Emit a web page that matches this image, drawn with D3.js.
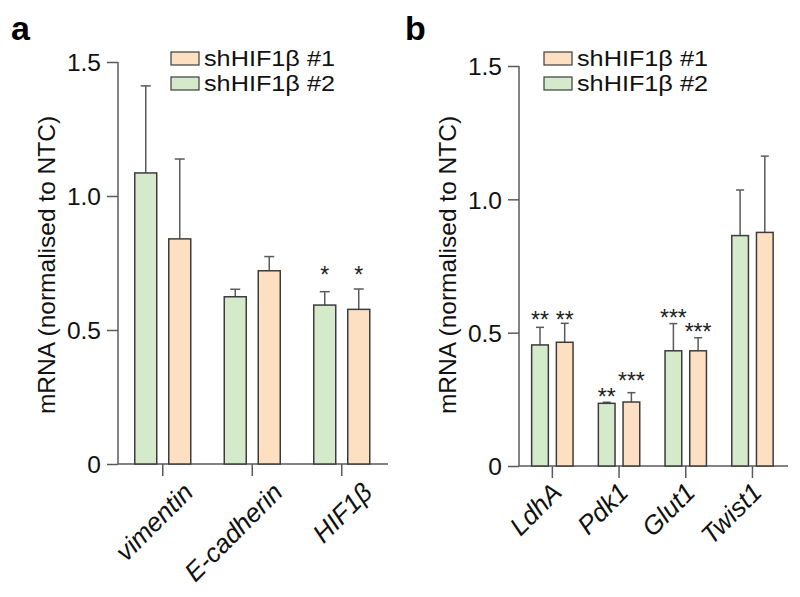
<!DOCTYPE html>
<html><head><meta charset="utf-8">
<script src="https://cdn.jsdelivr.net/npm/d3@7"></script>
<style>body{margin:0;background:#fff;} text{font-family:"Liberation Sans",Arial,sans-serif;}</style>
</head><body>
<svg id="chart" width="800" height="597"></svg>
<script>
// ---- data ----
const seriesNames = ["shHIF1β #1", "shHIF1β #2"];
const tickValues = [0, 0.5, 1.0, 1.5];
const tickLabels = ["0", "0.5", "1.0", "1.5"];

const catsA = ["vimentin", "E-cadherin", "HIF1β"];
const sh2A = [1.086, 0.624, 0.593];
const sh2AErr = [0.325, 0.028, 0.05];
const sh1A = [0.84, 0.721, 0.577];
const sh1AErr = [0.298, 0.053, 0.076];
const sh2AStars = ["", "", "*"];
const sh1AStars = ["", "", "*"];
const sh2AStarLevel = [null, null, 0.724];
const sh1AStarLevel = [null, null, 0.724];

const catsB = ["LdhA", "Pdk1", "Glut1", "Twist1"];
const sh2B = [0.454, 0.235, 0.432, 0.864];
const sh2BErr = [0.066, 0.004, 0.102, 0.171];
const sh1B = [0.464, 0.24, 0.432, 0.876];
const sh1BErr = [0.071, 0.035, 0.049, 0.286];
const sh2BStars = ["**", "**", "***", ""];
const sh1BStars = ["**", "***", "***", ""];
const sh2BStarLevel = [0.566, 0.277, 0.574, null];
const sh1BStarLevel = [0.566, 0.339, 0.521, null];

const colOrange = "#fde0c2", colGreen = "#d5eacb";
const strokeCol = "#3c3c3c", axisCol = "#5a5a5a";

const svg = d3.select("#chart");

function drawPanel(p) {
  const g = svg.append("g");
  const y = d3.scaleLinear().domain([0, 1.5]).range([p.y0, p.y1]);
  const x = d3.scaleBand().domain(p.cats).range([p.ax, p.ax + p.step * p.cats.length]).padding(0);
  const x1 = d3.scaleBand().domain(["sh2", "sh1"]).range([-p.groupW / 2, p.groupW / 2]).paddingInner(p.innerPad).paddingOuter(0);

  // y axis
  const ya = g.append("g").attr("transform", `translate(${p.ax},0)`)
    .call(d3.axisLeft(y).tickValues(tickValues).tickFormat((d, i) => tickLabels[i]).tickSize(11).tickPadding(6));
  ya.select(".domain").remove();
  ya.append("line").attr("x1", 0).attr("x2", 0).attr("y1", y(1.5)).attr("y2", y(0));
  ya.selectAll("line").attr("stroke", axisCol).attr("stroke-width", 1.5);
  ya.selectAll("text").attr("font-size", 24.5).attr("fill", "#111").attr("dy", "0.36em")
    .attr("font-family", "Liberation Sans, Arial, sans-serif");

  // x axis
  const xa = g.append("g").attr("transform", `translate(0,${p.y0})`)
    .call(d3.axisBottom(x).tickSize(12).tickFormat(""));
  xa.select(".domain").remove();
  xa.append("line").attr("x1", p.ax).attr("x2", p.xEnd).attr("y1", 0).attr("y2", 0);
  xa.selectAll("line").attr("stroke", axisCol).attr("stroke-width", 1.5);

  const series = [
    {key: "sh2", vals: p.sh2, err: p.sh2Err, stars: p.sh2Stars, lvl: p.sh2Lvl, fill: colGreen},
    {key: "sh1", vals: p.sh1, err: p.sh1Err, stars: p.sh1Stars, lvl: p.sh1Lvl, fill: colOrange}
  ];
  series.forEach(s => {
    const rows = p.cats.map((c, i) => ({c, v: s.vals[i], e: s.err[i], st: s.stars[i], lv: s.lvl[i]}));
    const cx = d => x(d.c) + x.bandwidth() / 2 + x1(s.key) + x1.bandwidth() / 2;
    // error bars
    g.selectAll(null).data(rows).enter().append("line")
      .attr("x1", cx).attr("x2", cx).attr("y1", d => y(d.v)).attr("y2", d => y(d.v + d.e))
      .attr("stroke", axisCol).attr("stroke-width", 1.5);
    g.selectAll(null).data(rows).enter().append("line")
      .attr("x1", d => cx(d) - p.cap / 2).attr("x2", d => cx(d) + p.cap / 2)
      .attr("y1", d => y(d.v + d.e)).attr("y2", d => y(d.v + d.e))
      .attr("stroke", axisCol).attr("stroke-width", 1.5);
    // bars
    g.selectAll(null).data(rows).enter().append("rect")
      .attr("x", d => x(d.c) + x.bandwidth() / 2 + x1(s.key)).attr("width", x1.bandwidth())
      .attr("y", d => y(d.v)).attr("height", d => y(0) - y(d.v))
      .attr("fill", s.fill).attr("stroke", strokeCol).attr("stroke-width", 1.5);
    // stars
    g.selectAll(null).data(rows.filter(d => d.st)).enter().append("text")
      .attr("x", cx).attr("y", d => y(d.lv) + 13).attr("text-anchor", "middle")
      .attr("font-size", 23).attr("fill", "#222").text(d => d.st);
  });

  // category labels
  g.selectAll(null).data(p.cats).enter().append("text")
    .attr("transform", d => `translate(${x(d) + x.bandwidth() / 2 + p.labDx},${p.y0 + p.labDy}) rotate(-45)`)
    .attr("text-anchor", "end").attr("font-size", 26).attr("font-style", "italic").attr("fill", "#111")
    .text(d => d);

  // y title
  g.append("text").attr("transform", `translate(${p.ax - 63},${p.titleY}) rotate(-90)`)
    .attr("text-anchor", "middle").attr("font-size", 24.5).attr("fill", "#111")
    .text("mRNA (normalised to NTC)");

  // legend
  const lg = g.append("g");
  [{n: seriesNames[0], f: colOrange, yy: p.legY}, {n: seriesNames[1], f: colGreen, yy: p.legY + 25}].forEach(l => {
    lg.append("rect").attr("x", p.legX).attr("y", l.yy).attr("width", 28).attr("height", 13)
      .attr("fill", l.f).attr("stroke", strokeCol).attr("stroke-width", 1.2);
    lg.append("text").attr("x", p.legX + 33).attr("y", l.yy + 14).attr("font-size", 21.5)
      .attr("textLength", 131).attr("lengthAdjust", "spacingAndGlyphs").attr("fill", "#111").text(l.n);
  });

  // panel letter
  g.append("text").attr("x", p.letterX).attr("y", 40).attr("font-size", 34).attr("font-weight", "bold")
    .attr("fill", "#000").text(p.letter);
}

drawPanel({letter: "a", letterX: 11, cats: catsA, ax: 118, step: 89.5, xEnd: 388, y0: 464, y1: 62,
  groupW: 56, innerPad: 0.353, cap: 10,
  sh1: sh1A, sh1Err: sh1AErr, sh2: sh2A, sh2Err: sh2AErr,
  sh1Stars: sh1AStars, sh2Stars: sh2AStars, sh1Lvl: sh1AStarLevel, sh2Lvl: sh2AStarLevel,
  labDx: 32, labDy: 30, titleY: 265, legX: 171, legY: 52});

drawPanel({letter: "b", letterX: 405, cats: catsB, ax: 519, step: 66.7, xEnd: 788, y0: 466, y1: 66,
  groupW: 41.4, innerPad: 0.324, cap: 8,
  sh1: sh1B, sh1Err: sh1BErr, sh2: sh2B, sh2Err: sh2BErr,
  sh1Stars: sh1BStars, sh2Stars: sh2BStars, sh1Lvl: sh1BStarLevel, sh2Lvl: sh2BStarLevel,
  labDx: 11, labDy: 28, titleY: 265, legX: 544, legY: 52});
</script>
</body></html>
